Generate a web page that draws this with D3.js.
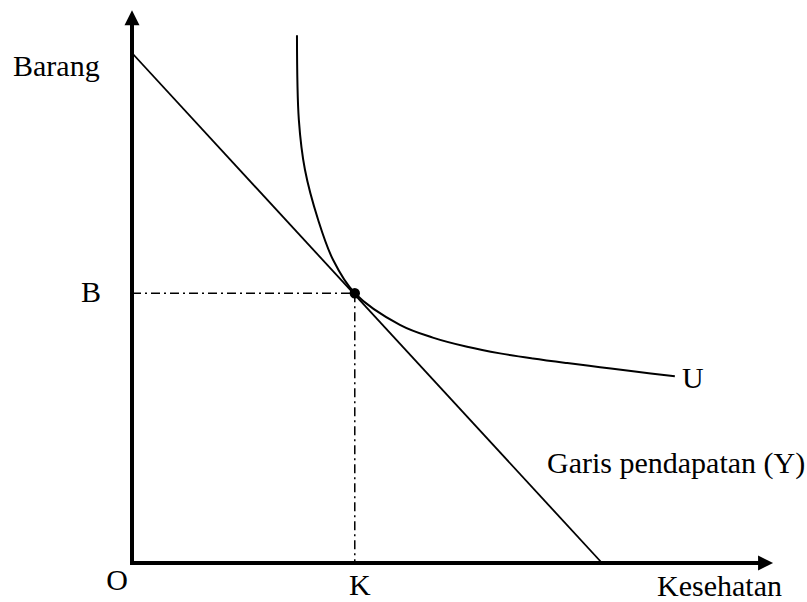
<!DOCTYPE html>
<html>
<head>
<meta charset="utf-8">
<script src="https://cdn.jsdelivr.net/npm/d3@7"></script>
<style>
  html, body { margin: 0; padding: 0; background: #fff; }
  svg text { font-family: "Liberation Serif", "Times New Roman", serif; fill: #000; }
</style>
</head>
<body>
<svg id="chart" width="807" height="602"></svg>
<script>
// ---- data ----
const axisLabels = { y: "Barang", x: "Kesehatan", origin: "O" };
const tickLabels = ["B", "K"];
const budgetLine = [[0, 10], [10, 0]];                 // Garis pendapatan (Y)
const optimum = [4.74, 5.29];                           // point (K, B)
const curveU = [
  [3.51, 10.35], [3.55, 8.69], [3.68, 7.71], [3.96, 6.73], [4.28, 5.94],
  [4.74, 5.29], [5.70, 4.67], [6.40, 4.42], [7.13, 4.24], [7.83, 4.11],
  [8.53, 4.01], [9.26, 3.92], [9.96, 3.84], [10.66, 3.76], [11.55, 3.66]
];
const curveLabel = "U";
const budgetLabel = "Garis pendapatan (Y)";
const axisExtent = { x: 13.64, y: 10.84 };

// ---- scales ----
const svg = d3.select("#chart");
const x = d3.scaleLinear().domain([0, 10]).range([132, 602]);
const y = d3.scaleLinear().domain([0, 10]).range([563, 53]);

const FS = 30;

// dash-dot guide lines
svg.append("line")
  .attr("x1", x(0)).attr("y1", y(optimum[1]))
  .attr("x2", x(optimum[0])).attr("y2", y(optimum[1]))
  .attr("stroke", "#000").attr("stroke-width", 1.5)
  .attr("stroke-dasharray", "9,4,2,4");
svg.append("line")
  .attr("x1", x(optimum[0])).attr("y1", y(optimum[1]))
  .attr("x2", x(optimum[0])).attr("y2", y(0))
  .attr("stroke", "#000").attr("stroke-width", 1.5)
  .attr("stroke-dasharray", "9,4,2,4");

// budget line
svg.append("path")
  .datum(budgetLine)
  .attr("d", d3.line().x(d => x(d[0])).y(d => y(d[1])))
  .attr("fill", "none").attr("stroke", "#000").attr("stroke-width", 1.8);

// indifference curve
svg.append("path")
  .datum(curveU)
  .attr("d", d3.line().x(d => x(d[0])).y(d => y(d[1])).curve(d3.curveCatmullRom.alpha(0.5)))
  .attr("fill", "none").attr("stroke", "#000").attr("stroke-width", 2);

// axes
const x0 = x(0), y0 = y(0);
svg.append("line")
  .attr("x1", x0).attr("y1", y0 + 2)
  .attr("x2", x0).attr("y2", y(axisExtent.y) + 12)
  .attr("stroke", "#000").attr("stroke-width", 4);
svg.append("line")
  .attr("x1", x0 - 2).attr("y1", y0)
  .attr("x2", x(axisExtent.x) - 12).attr("y2", y0)
  .attr("stroke", "#000").attr("stroke-width", 4);
// arrowheads
const ty = y(axisExtent.y), tx = x(axisExtent.x);
svg.append("path")
  .attr("d", `M${x0},${ty} L${x0 - 7.5},${ty + 15} L${x0 + 7.5},${ty + 15} Z`)
  .attr("fill", "#000");
svg.append("path")
  .attr("d", `M${tx},${y0} L${tx - 15},${y0 - 7.5} L${tx - 15},${y0 + 7.5} Z`)
  .attr("fill", "#000");

// optimum point
svg.append("circle")
  .attr("cx", x(optimum[0])).attr("cy", y(optimum[1]))
  .attr("r", 5.2).attr("fill", "#000");

// labels
svg.append("text").attr("x", 13).attr("y", 76).attr("font-size", FS).text(axisLabels.y);
svg.append("text").attr("x", 782).attr("y", 596).attr("text-anchor", "end").attr("font-size", FS).text(axisLabels.x);
svg.append("text").attr("x", 117).attr("y", 590).attr("text-anchor", "middle").attr("font-size", FS).text(axisLabels.origin);
svg.append("text").attr("x", 101).attr("y", y(optimum[1]) + 9).attr("text-anchor", "end").attr("font-size", FS).text(tickLabels[0]);
svg.append("text").attr("x", x(optimum[0]) + 5).attr("y", 595).attr("text-anchor", "middle").attr("font-size", FS).text(tickLabels[1]);
svg.append("text").attr("x", 682).attr("y", 388).attr("font-size", FS).text(curveLabel);
svg.append("text").attr("x", 547).attr("y", 473).attr("font-size", FS).text(budgetLabel);
</script>
</body>
</html>
